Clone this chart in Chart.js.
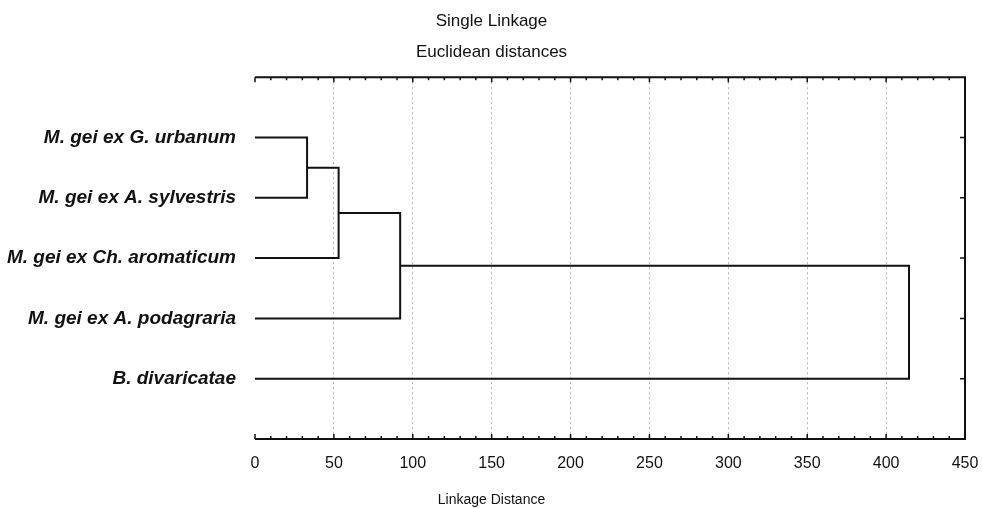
<!DOCTYPE html>
<html>
<head>
<meta charset="utf-8">
<script src="https://cdn.jsdelivr.net/npm/chart.js@4/dist/chart.umd.min.js"></script>
<style>
  html, body { margin: 0; padding: 0; background: #fff; }
  #wrap { width: 983px; height: 508px; }
</style>
</head>
<body>
<div id="wrap"><canvas id="chart"></canvas></div>
<script>
// leaves, top to bottom
const leafLabels = [
  "M. gei ex G. urbanum",
  "M. gei ex A. sylvestris",
  "M. gei ex Ch. aromaticum",
  "M. gei ex A. podagraria",
  "B. divaricatae"
]
const leafPos = [1, 2, 3, 4, 5]

// linkage table: node ids 0-4 are leaves, 5+ are the joined clusters
const joinA = [0, 5, 6, 7]
const joinB = [1, 2, 3, 4]
const joinDist = [33, 53, 92, 414.5]

const xTickValues = [0, 50, 100, 150, 200, 250, 300, 350, 400, 450]

const ink = "#111"
const fontFamily = "'Liberation Sans', Arial, Helvetica, sans-serif"

function buildLinks() {
  const nodeY = leafPos.slice()
  const nodeX = leafPos.map(() => 0)
  const sets = []
  for (let i = 0; i < joinDist.length; i++) {
    const a = joinA[i]
    const b = joinB[i]
    const d = joinDist[i]
    sets.push({
      data: [
        { x: nodeX[a], y: nodeY[a] },
        { x: d, y: nodeY[a] },
        { x: d, y: nodeY[b] },
        { x: nodeX[b], y: nodeY[b] }
      ],
      showLine: true,
      borderColor: ink,
      borderWidth: 2,
      pointRadius: 0,
      tension: 0,
      fill: false
    })
    nodeY.push((nodeY[a] + nodeY[b]) / 2)
    nodeX.push(d)
  }
  return sets
}

// top / right / bottom frame with inward ticks, like the original plot
const framePlugin = {
  id: "frame",
  afterDraw(chart) {
    const { ctx, chartArea } = chart
    const xs = chart.scales.x
    const ys = chart.scales.y
    const { left, right, top, bottom } = chartArea
    ctx.save()
    ctx.strokeStyle = ink
    ctx.lineWidth = 2
    ctx.beginPath()
    ctx.moveTo(left, top)
    ctx.lineTo(right, top)
    ctx.lineTo(right, bottom)
    ctx.lineTo(left, bottom)
    ctx.stroke()

    ctx.lineWidth = 1.5
    ctx.beginPath()
    for (let v = xs.min; v <= xs.max; v += 10) {
      const px = xs.getPixelForValue(v)
      const len = v % 50 === 0 ? 5 : 3
      ctx.moveTo(px, top)
      ctx.lineTo(px, top + len)
      ctx.moveTo(px, bottom)
      ctx.lineTo(px, bottom - len)
    }
    leafPos.forEach((v) => {
      const py = ys.getPixelForValue(v)
      ctx.moveTo(right, py)
      ctx.lineTo(right - 5, py)
    })
    ctx.stroke()
    ctx.restore()
  }
}

function chartConfig() {
  const chart = document.querySelector("#chart")
  const config = {
    type: "scatter",
    data: { datasets: buildLinks() },
    options: {
      responsive: true,
      maintainAspectRatio: false,
      animation: false,
      layout: {
        padding: 0
      },
      scales: {
        x: {
          type: "linear",
          position: "bottom",
          min: 0,
          max: 450,
          afterBuildTicks: (s) => { s.ticks = xTickValues.map((v) => ({ value: v })) },
          afterFit: (s) => {
            s.height = 54
            s.paddingLeft = 0
            s.paddingRight = 0
          },
          ticks: {
            color: ink,
            padding: 15,
            font: { family: fontFamily, size: 16 }
          },
          grid: {
            drawTicks: false,
            lineWidth: 1,
            color: (c) => (c.tick && (c.tick.value === 0 || c.tick.value === 450)) ? "rgba(0,0,0,0)" : "#b5b5b5"
          },
          border: { display: false, dash: [2, 3] }
        },
        y: {
          type: "linear",
          position: "left",
          min: 0,
          max: 6,
          reverse: true,
          afterBuildTicks: (s) => { s.ticks = leafPos.map((v) => ({ value: v })) },
          afterFit: (s) => { s.width = 255 },
          ticks: {
            color: ink,
            padding: 11,
            font: { family: fontFamily, size: 19, style: "italic", weight: "bold" },
            callback: (v) => {
              const i = leafPos.indexOf(v)
              return i >= 0 ? leafLabels[i] : ""
            }
          },
          grid: { display: false },
          border: { display: false }
        },
        // empty right gutter so the titles stay centred on the whole page
        yRight: {
          type: "linear",
          position: "right",
          min: 0,
          max: 6,
          afterFit: (s) => {
            s.width = 18
            s.paddingTop = 0
            s.paddingBottom = 0
          },
          ticks: { display: false },
          grid: { display: false },
          border: { display: false }
        }
      },
      plugins: {
        legend: { display: false },
        tooltip: { enabled: false },
        title: {
          display: true,
          text: ["Single Linkage", "Euclidean distances"],
          color: ink,
          font: { family: fontFamily, size: 17, weight: "normal", lineHeight: 1.8 },
          padding: { top: 6, bottom: 10 }
        },
        subtitle: {
          display: true,
          position: "bottom",
          text: "Linkage Distance",
          color: ink,
          font: { family: fontFamily, size: 14, weight: "normal", lineHeight: 1.07 },
          padding: { top: 0, bottom: 0 }
        }
      }
    },
    plugins: [framePlugin]
  }
  new Chart(chart, config)
}

document.addEventListener("DOMContentLoaded", () => {
  chartConfig()
})
</script>
</body>
</html>
